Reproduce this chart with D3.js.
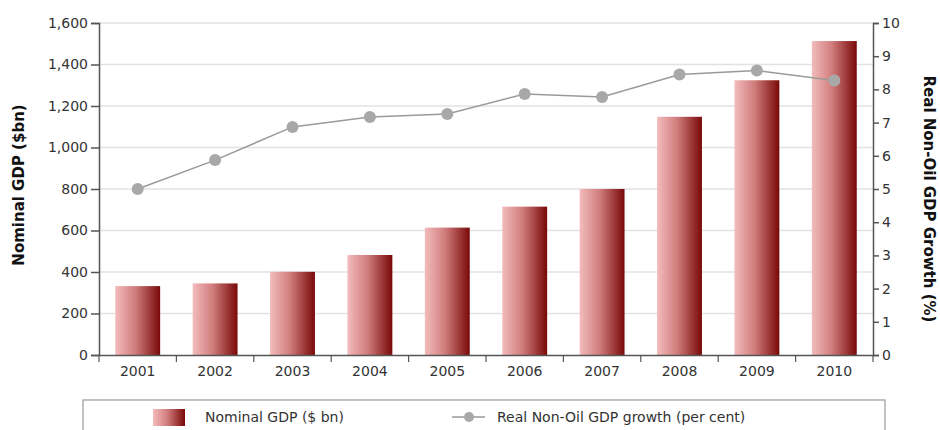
<!DOCTYPE html>
<html><head><meta charset="utf-8">
<script src="https://cdn.jsdelivr.net/npm/d3@7"></script>
<style>body{margin:0;background:#fff;font-family:"DejaVu Sans",sans-serif}</style>
</head><body><svg id="c" width="940" height="430"></svg>
<script>
const years = ["2001","2002","2003","2004","2005","2006","2007","2008","2009","2010"];
const nominalGDP = [332, 345, 401, 482, 614, 715, 800, 1148, 1324, 1513];
const nonOilGrowth = [5.0, 5.87, 6.87, 7.17, 7.26, 7.86, 7.77, 8.45, 8.57, 8.27];
const leftTicks = [0,200,400,600,800,1000,1200,1400,1600];
const rightTicks = [0,1,2,3,4,5,6,7,8,9,10];

const FONT = "DejaVu Sans, sans-serif";
const svg = d3.select("#c");
const L = 99, R = 873, T = 23, B = 355;
const x = d3.scaleBand().domain(years).range([L, R]).paddingInner(0.42).paddingOuter(0.21);
const xs = d3.scaleBand().domain(years).range([L, R]);
const yL = d3.scaleLinear().domain([0,1600]).range([B, T]);
const yR = d3.scaleLinear().domain([0,10]).range([B, T]);

const defs = svg.append("defs");
const g = defs.append("linearGradient").attr("id","bg").attr("x1","0").attr("x2","1").attr("y1","0").attr("y2","0");
g.append("stop").attr("offset","0%").attr("stop-color","#f3bcbc");
g.append("stop").attr("offset","45%").attr("stop-color","#d07c7c");
g.append("stop").attr("offset","100%").attr("stop-color","#7a0808");

// grid
svg.append("g").selectAll("line").data(leftTicks.filter(d=>d>0)).join("line")
  .attr("x1",L).attr("x2",R).attr("y1",d=>yL(d)).attr("y2",d=>yL(d))
  .attr("stroke","#e2e2e2").attr("stroke-width",1.5);

// bars
svg.append("g").selectAll("rect").data(years).join("rect")
  .attr("x",d=>x(d)).attr("width",x.bandwidth())
  .attr("y",(d,i)=>yL(nominalGDP[i])).attr("height",(d,i)=>B-yL(nominalGDP[i]))
  .attr("fill","url(#bg)");

// axes
const axStyle = sel => { sel.selectAll("path,line").attr("stroke","#555").attr("stroke-width",1.5);
  sel.selectAll("text").attr("fill","#333").style("font-size","14px").style("font-family",FONT); };
svg.append("g").attr("transform",`translate(${L},0)`)
  .call(d3.axisLeft(yL).tickValues(leftTicks).tickFormat(d3.format(",")).tickSizeOuter(0).tickSize(8).tickPadding(3))
  .call(axStyle);
svg.append("g").attr("transform",`translate(${R},0)`)
  .call(d3.axisRight(yR).tickValues(rightTicks).tickSizeOuter(0).tickSize(6).tickPadding(3))
  .call(axStyle);
svg.append("g").attr("transform",`translate(0,${B})`)
  .call(d3.axisBottom(x).tickSize(0).tickSizeOuter(0).tickPadding(11))
  .call(axStyle);
// x tick marks at band boundaries
svg.append("g").selectAll("line").data(years.concat(["end"])).join("line")
  .attr("x1",(d,i)=> i<years.length ? xs(d) : R).attr("x2",(d,i)=> i<years.length ? xs(d) : R)
  .attr("y1",B).attr("y2",B+7).attr("stroke","#555").attr("stroke-width",1.2);

// line
const line = d3.line().x((d,i)=>x(years[i])+x.bandwidth()/2).y(d=>yR(d));
svg.append("path").datum(nonOilGrowth).attr("d",line).attr("fill","none").attr("stroke","#9a9a9a").attr("stroke-width",1.5);
svg.append("g").selectAll("circle").data(nonOilGrowth).join("circle")
  .attr("cx",(d,i)=>x(years[i])+x.bandwidth()/2).attr("cy",d=>yR(d)).attr("r",6).attr("fill","#a8a8a8");

// axis titles
svg.append("text").attr("transform",`translate(24,185) rotate(-90)`).attr("text-anchor","middle")
  .style("font-size","15px").style("font-weight","bold").style("font-family",FONT).attr("fill","#111").text("Nominal GDP ($bn)");
svg.append("text").attr("transform",`translate(924,199) rotate(90)`).attr("text-anchor","middle")
  .style("font-size","15px").style("font-weight","bold").style("font-family",FONT).attr("fill","#111").text("Real Non-Oil GDP Growth (%)");

// legend
svg.append("rect").attr("x",83).attr("y",400).attr("width",802).attr("height",40).attr("fill","#fff").attr("stroke","#999").attr("stroke-width",1.2);
svg.append("rect").attr("x",153).attr("y",409).attr("width",32).attr("height",17).attr("fill","url(#bg)");
svg.append("text").attr("x",205).attr("y",422).style("font-size","14px").style("font-family",FONT).attr("fill","#333").text("Nominal GDP ($ bn)");
svg.append("line").attr("x1",452).attr("x2",485).attr("y1",417).attr("y2",417).attr("stroke","#9a9a9a").attr("stroke-width",1.5);
svg.append("circle").attr("cx",469).attr("cy",417).attr("r",5).attr("fill","#a8a8a8");
svg.append("text").attr("x",497).attr("y",422).style("font-size","14px").style("font-family",FONT).attr("fill","#333").text("Real Non-Oil GDP growth (per cent)");
</script></body></html>
